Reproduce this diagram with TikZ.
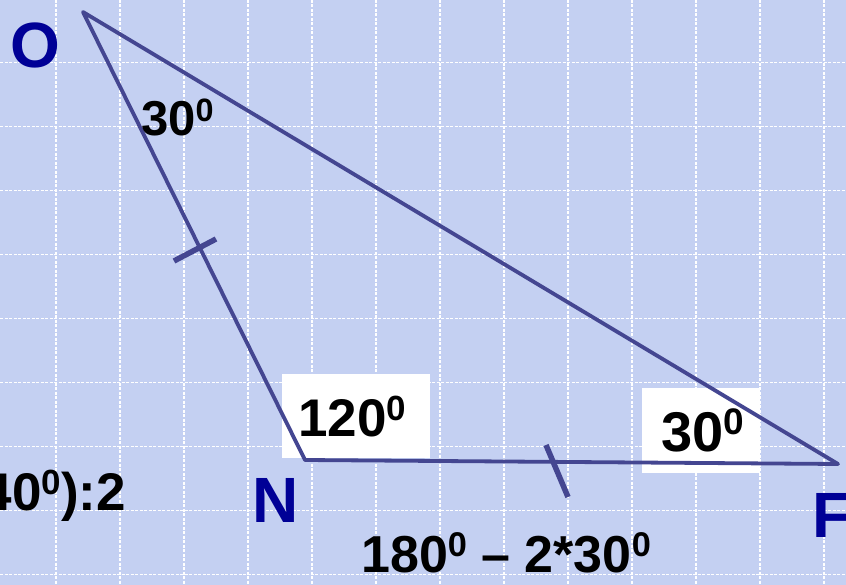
\documentclass[tikz,border=0pt]{standalone}
\usepackage{fontspec}
\setmainfont{Liberation Sans}
\usepackage{graphicx}
\definecolor{bgblue}{RGB}{196,208,242}
\definecolor{tri}{RGB}{68,70,145}
\definecolor{letblue}{RGB}{0,0,150}
\newcommand{\dgz}{\raisebox{0.3em}{\scalebox{0.66}{0}}}
\begin{document}
\begin{tikzpicture}[x=1pt,y=-1pt,
  gridline/.style={white,line width=1.1pt,dash pattern=on 3pt off 1.5pt},
  edge/.style={tri,line width=3.8pt,line join=round,line cap=round},
  tick/.style={tri,line width=5.5pt},
  whitebox/.style={fill=white,draw=none},
  ang/.style={inner sep=0pt,anchor=base west,font=\bfseries},
  vert/.style={inner sep=0pt,anchor=base west,text=letblue,font=\bfseries\fontsize{64}{64}\selectfont}]
\useasboundingbox (0,0) rectangle (846,585);
\fill[bgblue] (0,0) rectangle (846,585);
% grid
\foreach \gx in {-8,56,...,824} \draw[gridline] (\gx,0) -- (\gx,585);
\foreach \gy in {-2,62.1,...,590} \draw[gridline] (0,\gy) -- (846,\gy);
% white boxes
\fill[whitebox] (282,374) rectangle (430,458);
\fill[whitebox] (642,388) rectangle (760,473);
% triangle
\coordinate (O) at (83,12);
\coordinate (N) at (305,460);
\coordinate (F) at (838,464);
\draw[edge] (O) -- (N) -- (F) -- cycle;
% ticks
\coordinate (t1a) at (174,261);
\coordinate (t1b) at (216,239);
\coordinate (t2a) at (546,445);
\coordinate (t2b) at (568,497);
\draw[tick] (t1a) -- (t1b);
\draw[tick] (t2a) -- (t2b);
% vertex labels
\node[vert] (lO) at (10.5,68) {O};
\node[vert] (lN) at (252.5,522) {N};
\node[vert] (lF) at (812,537) {F};
% angle labels
\node[ang,font=\bfseries\fontsize{49}{49}\selectfont] (a30o) at (141,136) {30\dgz};
\node[ang,font=\bfseries\fontsize{53}{53}\selectfont] (a120) at (298,436) {120\dgz};
\node[ang,font=\bfseries\fontsize{56}{56}\selectfont] (a30f) at (661,451) {30\dgz};
\node[ang,font=\bfseries\fontsize{52}{52}\selectfont] (calc) at (361,572) {180\dgz{} – 2*30\dgz};
\node[inner sep=0pt,anchor=base east,font=\bfseries\fontsize{53}{53}\selectfont] (half) at (126,510) {40\dgz):2};
\end{tikzpicture}
\end{document}
